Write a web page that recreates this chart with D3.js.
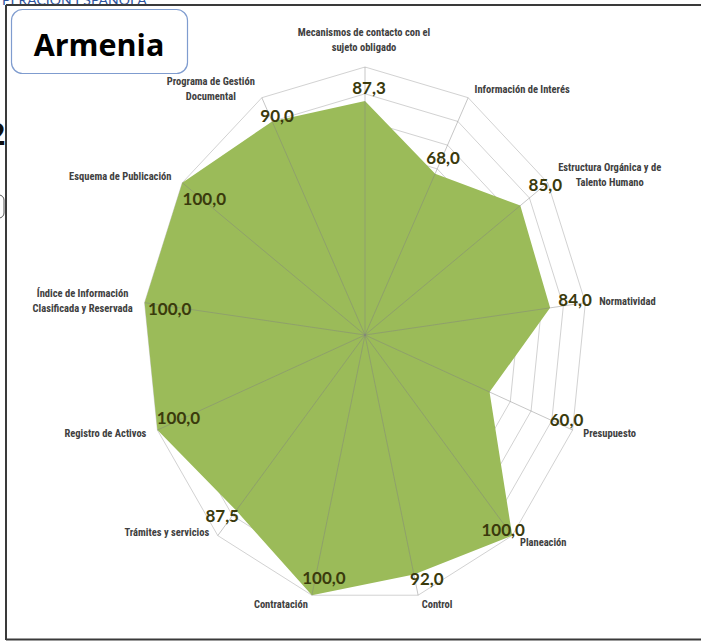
<!DOCTYPE html>
<html><head><meta charset="utf-8">
<script src="https://cdn.jsdelivr.net/npm/d3@7/dist/d3.min.js"></script>
<style>
html,body{margin:0;padding:0;background:#fff;overflow:hidden;}
svg{display:block;}
</style></head>
<body>
<svg id="chart" width="701" height="641"></svg>
<script>
// ---------- DATA ----------
const categories = [
  ["Mecanismos de contacto con el", "sujeto obligado"],
  ["Información de Interés"],
  ["Estructura Orgánica y de", "Talento Humano"],
  ["Normatividad"],
  ["Presupuesto"],
  ["Planeación"],
  ["Control"],
  ["Contratación"],
  ["Trámites y servicios"],
  ["Registro de Activos"],
  ["Índice de Información", "Clasificada y Reservada"],
  ["Esquema de Publicación"],
  ["Programa de Gestión", "Documental"]
];
const values = [87.3, 68.0, 85.0, 84.0, 60.0, 100.0, 92.0, 100.0, 87.5, 100.0, 100.0, 100.0, 90.0];
const ringTicks = [10, 20, 30, 40, 50, 60, 70, 80, 90, 100];
const title = "Armenia";

// ---------- LAYOUT (label offsets in px, not data) ----------
const catLabelOffsets = [[-1,-27],[54,-8],[62,-8],[42,-1],[37,3],[31,7],[19,9],[-31,9],[-51,-3],[-52,3],[-62,-2],[-62,-6],[-51,-9]];
const valLabelOffsets = [[4,-13],[8,-16],[25,-21],[25,-8],[77,28],[-9,-6],[13,5],[12,-17],[-14,6],[21,-12],[25,6],[22,16],[5,-5]];

const svg = d3.select("#chart");
const cx = 365, cy = 335;
const rx = d3.scaleLinear().domain([0, 100]).range([0, 222]);
const ry = d3.scaleLinear().domain([0, 100]).range([0, 268]);
const n = categories.length;
const angle = d3.scaleLinear().domain([0, n]).range([0, 2 * Math.PI]);
const px = (i, v) => cx + rx(v) * Math.sin(angle(i));
const py = (i, v) => cy - ry(v) * Math.cos(angle(i));

// cut text at top and left artifacts (cropped in the reference as well)
svg.append("text").attr("x", 2).attr("y", 4.5)
  .attr("font-family", "Lato, sans-serif").attr("font-size", 14)
  .attr("fill", "#2f55a0").text("PERACIÓN ESPAÑOLA");
svg.append("text").attr("x", -12).attr("y", 145)
  .attr("font-family", "Open Sans, sans-serif").attr("font-weight", "bold").attr("font-size", 30)
  .attr("fill", "#111").text("2");
svg.append("rect").attr("x", -20).attr("y", 195).attr("width", 24).attr("height", 23).attr("rx", 5)
  .attr("fill", "none").attr("stroke", "#555").attr("stroke-width", 1);

// frame
const frame = svg.append("g").attr("stroke", "#3a3a3a").attr("stroke-width", 2).attr("fill", "none");
frame.append("line").attr("x1", 6).attr("x2", 701).attr("y1", 5).attr("y2", 5);
frame.append("line").attr("x1", 6).attr("x2", 6).attr("y1", 5).attr("y2", 640);
frame.append("line").attr("x1", 6).attr("x2", 701).attr("y1", 639.5).attr("y2", 639.5);

// rings
const ringLine = d3.line().curve(d3.curveLinearClosed);
svg.append("g").selectAll("path").data(ringTicks).join("path")
  .attr("d", t => ringLine(d3.range(n).map(i => [px(i, t), py(i, t)])))
  .attr("fill", "none").attr("stroke", "#d2d2d2").attr("stroke-width", 1);

// data polygon
svg.append("path")
  .attr("d", ringLine(values.map((v, i) => [px(i, v), py(i, v)])))
  .attr("fill", "#9bbb59").attr("stroke", "none");

// spokes on top
svg.append("g").selectAll("line").data(d3.range(n)).join("line")
  .attr("x1", cx).attr("y1", cy)
  .attr("x2", i => px(i, 100)).attr("y2", i => py(i, 100))
  .attr("stroke", "#808080").attr("stroke-opacity", 0.45).attr("stroke-width", 1);

// category labels
const catG = svg.append("g")
  .attr("font-family", "'Liberation Sans Narrow', 'Roboto Condensed', Lato, sans-serif")
  .attr("font-weight", "bold").attr("font-size", 10.5).attr("fill", "#404040").attr("text-anchor", "middle");
categories.forEach((lines, i) => {
  const x = px(i, 100) + catLabelOffsets[i][0];
  const y = py(i, 100) + catLabelOffsets[i][1];
  const lh = 15.5;
  const t = catG.append("text").attr("x", x).attr("y", y);
  lines.forEach((ln, k) => {
    t.append("tspan").attr("x", x)
      .attr("y", y + (k - (lines.length - 1) / 2) * lh)
      .attr("dy", "0.35em").text(ln);
  });
});

// value labels
const fmt = v => d3.format(".1f")(v).replace(".", ",");
svg.append("g").selectAll("text").data(values).join("text")
  .attr("x", (v, i) => px(i, v) + valLabelOffsets[i][0])
  .attr("y", (v, i) => py(i, v) + valLabelOffsets[i][1])
  .attr("dy", "0.35em").attr("text-anchor", "middle")
  .attr("font-family", "Lato, sans-serif").attr("font-weight", "bold").attr("font-size", 17)
  .attr("fill", "#3a3a0c").text(fmt);

// title box
svg.append("rect").attr("x", 11.5).attr("y", 9.5).attr("width", 176).attr("height", 64).attr("rx", 11)
  .attr("fill", "#fff").attr("stroke", "#7f9ccf").attr("stroke-width", 1.2);
svg.append("text").attr("x", 99).attr("y", 56).attr("text-anchor", "middle")
  .attr("font-family", "'Open Sans', sans-serif").attr("font-weight", "bold").attr("font-size", 30.5)
  .attr("fill", "#000").text(title);
</script>
</body></html>
